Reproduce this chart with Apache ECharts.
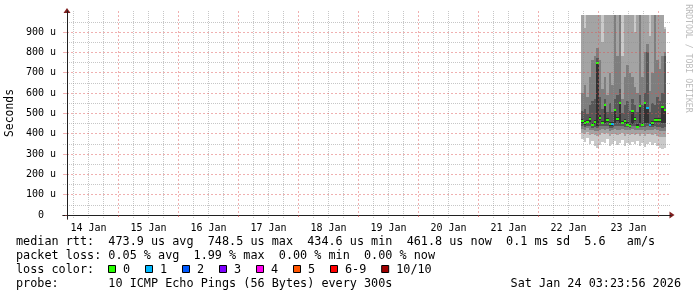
<!DOCTYPE html>
<html><head><meta charset="utf-8">
<script src="https://cdn.jsdelivr.net/npm/echarts@6/dist/echarts.min.js"></script>
<style>html,body{margin:0;padding:0;background:#fff}#c{width:697px;height:297px}</style>
</head><body><div id="c"></div>
<script>
// ---- data ----
const graphEndUTC = '2026-01-24T03:23:56Z';   // right edge of the plot
const graphSpanHours = 240;                    // 10 day graph
const upperLimit = 983.6;                      // us, top of plot
const dayLabels = ['14 Jan','15 Jan','16 Jan','17 Jan','18 Jan','19 Jan','20 Jan','21 Jan','22 Jan','23 Jan'];
const yMajorTicks = [0,100,200,300,400,500,600,700,800,900];
const yMinorTicks = [50,150,250,350,450,550,650,750,850,950];
const smokeStartUTC = '2026-01-22T17:00:00Z';  // first hourly column
const median = [462,450,458,470,442,455,748,478,452,540,466,448,446,515,470,550,452,462,445,438,512,470,435,536,444,549,525,443,450,466,468,468,532,516];
const loss   = [0,0,0,0,0,0,0,0,0,0,0,0,1,0,0,0,0,0,0,0,0,0,0,0,0,0,1,1,0,0,0,0,0,0];
const ping1  = [372,360,380,350,365,340,330,345,360,355,372,338,350,362,345,352,368,340,355,345,360,348,362,340,355,335,350,358,342,355,338,330,325,330];
const ping2  = [405,398,410,395,400,392,388,395,402,398,405,390,396,400,392,398,404,390,398,394,400,392,400,390,396,388,396,400,392,398,390,386,382,385];
const ping3  = [424,418,426,420,418,415,412,420,422,420,425,414,416,422,418,420,424,416,418,416,422,420,418,416,420,414,420,420,418,422,416,414,412,414];
const ping4  = [440,432,440,436,430,432,428,438,436,438,440,430,430,438,436,438,438,434,432,430,436,436,428,434,434,432,436,432,434,438,434,432,430,432];
const ping5  = [452,442,450,458,436,446,440,466,446,452,456,440,436,450,460,452,446,452,438,432,448,460,430,450,438,450,450,438,442,456,458,458,452,450];
const ping6  = [470,462,468,480,452,466,752,490,462,545,476,458,456,520,480,555,462,472,455,448,518,482,446,540,454,552,530,454,460,476,478,478,536,520];
const ping7  = [510,520,495,540,560,570,770,580,520,570,505,550,505,570,590,620,500,540,560,510,570,540,505,590,540,600,800,505,550,540,580,560,600,780];
const ping8  = [600,640,580,680,760,780,820,760,620,680,590,700,640,984,780,984,570,680,740,700,680,630,600,984,680,800,840,610,700,984,760,720,780,800];
const ping9  = [984,920,984,984,984,984,984,984,850,984,984,984,984,984,984,984,780,984,984,984,984,900,984,984,984,984,984,880,984,984,984,984,984,915];
const ping10 = [984,984,984,984,984,984,984,984,984,984,984,984,984,984,984,984,984,984,984,984,984,984,984,984,984,984,984,984,984,984,984,984,984,925];
const lossLabels = ['0','1','2','3','4','5','6-9','10/10'];
const lossColors = ['#26ff00','#00b8ff','#0059ff','#7e00ff','#ff00f0','#ff5500','#ff0000','#a00000'];
const smokeColors = ['#cacaca','#a4a4a4','#7e7e7e','#585858','#323232'];
const rttLine  = 'median rtt:  473.9 us avg  748.5 us max  434.6 us min  461.8 us now  0.1 ms sd  5.6   am/s';
const lossLine = 'packet loss: 0.05 % avg  1.99 % max  0.00 % min  0.00 % now';
const probeLine = 'probe:       10 ICMP Echo Pings (56 Bytes) every 300s';
const stampText = 'Sat Jan 24 03:23:56 2026';
const watermark = 'RRDTOOL / TOBI OETIKER';
const yTitle = 'Seconds';

// ---- helpers ----
const HOUR = 3600e3;
const tEnd = Date.parse(graphEndUTC);
const tStart = tEnd - graphSpanHours * HOUR;
const H = t => (t - tStart) / HOUR;            // hours since graph start
const dayT = d => Date.UTC(2026, 0, d);
const noonVals = dayLabels.map((s) => H(dayT(parseInt(s, 10)) + 12 * HOUR));
const midnightVals = [];
const minorXVals = [];
for (let d = 14; d <= 24; d++) {
  for (let h = 0; h < 24; h += 6) {
    const v = H(dayT(d) + h * HOUR);
    if (v < 0 || v > graphSpanHours) continue;
    (h === 0 ? midnightVals : minorXVals).push(v);
  }
}
const pxPerHour = 600 / graphSpanHours;
const xPad = 4 / pxPerHour;                    // axis overhang, 4px
const yPad = upperLimit * 4 / 200;
const xMin = -xPad, xMax = graphSpanHours + xPad;
const yMin = -yPad, yMax = upperLimit + yPad;

const pings = [ping1,ping2,ping3,ping4,ping5,ping6,ping7,ping8,ping9,ping10];
const c0 = H(Date.parse(smokeStartUTC));
const rows = median.map((m, k) => [c0 + k, c0 + k + 1].concat(pings.map(p => p[k]), [m, loss[k]]));

function lossIndex(l) { return l <= 5 ? l : (l < 10 ? 6 : 7); }

function renderSmoke(params, api) {
  const x0 = Math.round(api.coord([api.value(0), 0])[0]);
  const x1 = Math.round(api.coord([api.value(1), 0])[0]);
  const yp = v => Math.round(api.coord([0, Math.max(0, Math.min(upperLimit, v))])[1]);
  const p = [];
  for (let i = 0; i < 10; i++) p.push(api.value(2 + i));
  const children = [];
  for (let i = 0; i < 5; i++) {
    const top = yp(p[9 - i]), bot = yp(p[i]);
    children.push({type: 'rect', shape: {x: x0, y: top, width: x1 - x0, height: bot - top},
      style: {fill: smokeColors[i]}});
  }
  const ym = api.coord([0, api.value(12)])[1];
  children.push({type: 'rect', shape: {x: x0, y: Math.round(ym - 1), width: x1 - x0, height: 2},
    style: {fill: lossColors[lossIndex(api.value(13))]}});
  return {type: 'group', children};
}

const MONO = '"DejaVu Sans Mono"';
const majorColor = 'rgba(222,79,79,0.45)';
const minorColor = 'rgba(143,143,143,0.5)';
const majorDash = [2, 2];
const minorDash = [1, 1];
const xCommon = {type: 'value', min: xMin, max: xMax, gridIndex: 0, position: 'bottom'};
const yCommon = {type: 'value', min: yMin, max: yMax, gridIndex: 0, position: 'left'};

const graphics = [
  {type: 'text', x: 10.5, y: 113, rotation: Math.PI / 2,
    style: {text: yTitle, font: '11.4px ' + MONO, fill: '#000', align: 'center', verticalAlign: 'middle'}},
  {type: 'text', x: 688.5, y: 58.5, rotation: -Math.PI / 2,
    style: {text: watermark, font: '8.2px ' + MONO, fill: '#bbbbbb', align: 'center', verticalAlign: 'middle'}},
  {type: 'text', x: 16, y: 241.5, style: {text: rttLine, font: '11.8px ' + MONO, fill: '#000', verticalAlign: 'middle'}},
  {type: 'text', x: 16, y: 255.5, style: {text: lossLine, font: '11.8px ' + MONO, fill: '#000', verticalAlign: 'middle'}},
  {type: 'text', x: 16, y: 269.5, style: {text: 'loss color:', font: '11.8px ' + MONO, fill: '#000', verticalAlign: 'middle'}},
  {type: 'text', x: 16, y: 283.5, style: {text: probeLine, font: '11.8px ' + MONO, fill: '#000', verticalAlign: 'middle'}},
  {type: 'text', x: 681, y: 283.5, style: {text: stampText, font: '11.8px ' + MONO, fill: '#000', align: 'right', verticalAlign: 'middle'}}
];
let bx = 108;
lossLabels.forEach((lab, i) => {
  graphics.push({type: 'rect', shape: {x: bx + 0.5, y: 265.5, width: 7, height: 7},
    style: {fill: lossColors[i], stroke: '#000', lineWidth: 1}});
  graphics.push({type: 'text', x: bx + 15, y: 269.5,
    style: {text: lab, font: '11.8px ' + MONO, fill: '#000', verticalAlign: 'middle'}});
  bx += 37 + (lab.length - 1) * 7.1;
});

const chart = echarts.init(document.getElementById('c'), null, {renderer: 'canvas'});
chart.setOption({
  animation: false,
  backgroundColor: '#ffffff',
  textStyle: {fontFamily: MONO},
  grid: {left: 63, top: 11, width: 608, height: 208, containLabel: false, outerBoundsMode: 'none'},
  xAxis: [
    Object.assign({}, xCommon, {z: 4,
      axisLine: {show: true, onZero: true, onZeroAxisIndex: 0, lineStyle: {color: '#202020', width: 1}},
      axisTick: {show: true, customValues: midnightVals, length: 2, lineStyle: {color: majorColor}},
      axisLabel: {show: true, customValues: noonVals, margin: 4, fontFamily: MONO, fontSize: 10, color: '#000',
        formatter: v => { const i = noonVals.findIndex(n => Math.abs(n - v) < 0.01); return i >= 0 ? dayLabels[i] : ''; }},
      splitLine: {show: true, lineStyle: {color: majorColor, width: 1, type: majorDash}}}),
    Object.assign({}, xCommon, {z: 3,
      axisLine: {show: false}, axisTick: {show: false, customValues: minorXVals},
      axisLabel: {show: false}, splitLine: {show: true, lineStyle: {color: minorColor, width: 1, type: minorDash}}}),
    Object.assign({}, xCommon, {z: 3,
      axisLine: {show: true, onZero: true, onZeroAxisIndex: 0, symbol: ['none', 'triangle'], symbolSize: [7, 5],
        symbolOffset: [0, 1], lineStyle: {color: '#801f1f', width: 1}},
      axisTick: {show: false}, axisLabel: {show: false}, splitLine: {show: false}})
  ],
  yAxis: [
    Object.assign({}, yCommon, {z: 4,
      axisLine: {show: true, onZero: true, onZeroAxisIndex: 0, lineStyle: {color: '#202020', width: 1}},
      axisTick: {show: true, customValues: yMajorTicks, length: 2, lineStyle: {color: majorColor}},
      axisLabel: {show: true, customValues: yMajorTicks, margin: 7, fontFamily: MONO, fontSize: 10, color: '#000',
        formatter: v => v === 0 ? '0  ' : v + ' u'},
      splitLine: {show: true, lineStyle: {color: majorColor, width: 1, type: majorDash}}}),
    Object.assign({}, yCommon, {z: 3,
      axisLine: {show: false}, axisTick: {show: false, customValues: yMinorTicks},
      axisLabel: {show: false}, splitLine: {show: true, lineStyle: {color: minorColor, width: 1, type: minorDash}}}),
    Object.assign({}, yCommon, {z: 3,
      axisLine: {show: true, onZero: true, onZeroAxisIndex: 0, symbol: ['none', 'triangle'], symbolSize: [7, 5],
        symbolOffset: [0, 0.5], lineStyle: {color: '#801f1f', width: 1}},
      axisTick: {show: false}, axisLabel: {show: false}, splitLine: {show: false}})
  ],
  series: [{
    type: 'custom', xAxisIndex: 0, yAxisIndex: 0, z: 2, clip: true,
    renderItem: renderSmoke,
    encode: {x: [0, 1], y: [2, 3, 4, 5, 6, 7, 8, 9, 10, 11, 12]},
    data: rows
  }],
  graphic: graphics
});
</script></body></html>
